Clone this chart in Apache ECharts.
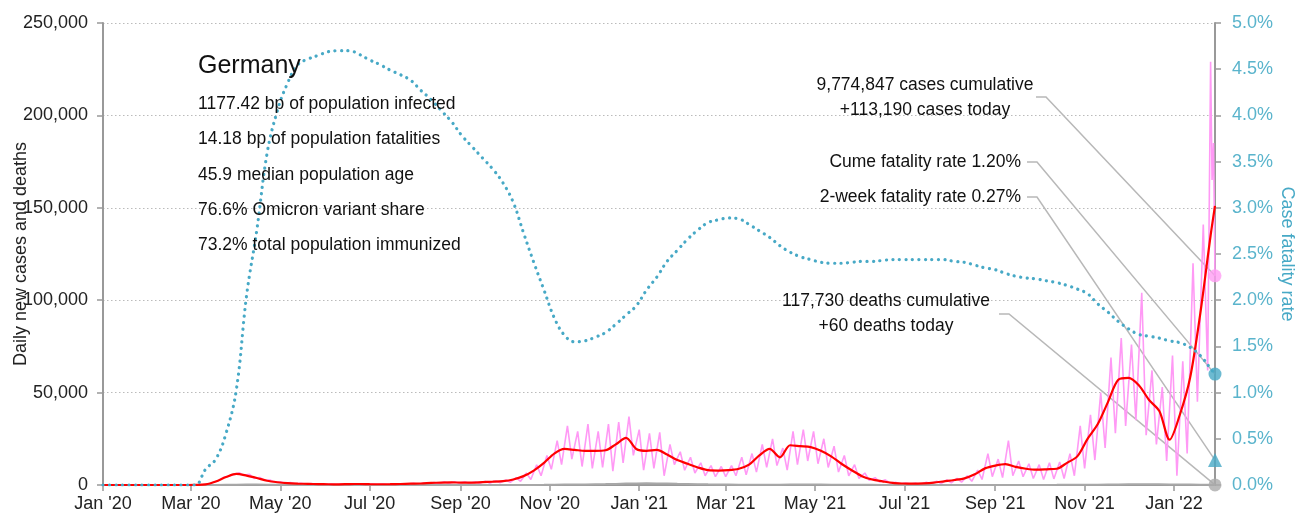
<!DOCTYPE html>
<html>
<head>
<meta charset="utf-8">
<script src="https://cdn.jsdelivr.net/npm/echarts@6/dist/echarts.min.js"></script>
<style>
html, body { margin: 0; padding: 0; background: #fff; }
#chartMain { width: 1295px; height: 522px; }
</style>
</head>
<body>
<div id="chartMain"></div>
<script>
// ---- data ----
var startDay = '2020-01-01';
var endDay = '2022-01-29';

// one value per week, starting 2020-01-01 (7-day average of new cases)
var weeklyAvgCases = [
    0, 0, 0, 1, 2, 1, 1, 1, 10, 40,
    300, 1900, 4300, 6000, 5100, 3800, 2300, 1500, 1000, 750,
    600, 480, 400, 350, 500, 550, 450, 400, 430, 550,
    700, 800, 1100, 1300, 1400, 1300, 1300, 1600, 1800, 2100,
    3000, 4800, 7800, 12000, 17000, 19500, 19000, 18500, 18500, 18800,
    22000, 25500, 19500, 18500, 19000, 16500, 13500, 11500, 9500, 8000,
    7800, 8000, 8800, 11000, 16000, 19500, 15000, 21500, 21000, 20500,
    18500, 15500, 11500, 8000, 4800, 3000, 2000, 1100, 800, 700,
    900, 1300, 2000, 2700, 3600, 5800, 9000, 10500, 11300, 9800,
    8800, 8300, 8500, 8800, 12000, 15500, 25000, 33000, 45000, 57000,
    58000, 54000, 46000, 40000, 24500, 38000, 58000, 93000, 135000
];
var lastAvgCases = 151000;

// daily new cases: weekly high and weekly low
var casesHigh = [
    0, 0, 0, 0, 0, 0, 0, 0, 0, 50,
    500, 2500, 4900, 6600, 5800, 4100, 2700, 1800, 1300, 950,
    750, 600, 500, 450, 700, 700, 550, 450, 550, 700,
    900, 1000, 1400, 1700, 1800, 1700, 1700, 2100, 2300, 2700,
    4000, 6500, 11000, 16000, 24000, 32000, 29000, 33000, 29000, 33000,
    34000, 37000, 30000, 28000, 28500, 22000, 18000, 15000, 12000, 10500,
    10000, 10500, 15000, 17000, 22000, 25000, 20000, 29000, 30000, 29000,
    25000, 21000, 16000, 11000, 6500, 4000, 2800, 1500, 1000, 1000,
    1500, 2000, 2800, 3600, 5000, 8000, 17000, 14000, 24000, 13000,
    11500, 11000, 12000, 12500, 17000, 32000, 38000, 50000, 69000, 79500,
    76000, 104000, 62000, 53000, 70000, 67000, 120000, 141000
];
var casesLow = [
    0, 0, 0, 0, 0, 0, 0, 0, 0, 150,
    1300, 4000, 5600, 5200, 3600, 2600, 1500, 900, 700, 500,
    400, 300, 250, 250, 400, 350, 300, 250, 300, 350,
    450, 500, 700, 800, 900, 800, 800, 1000, 1200, 1400,
    2000, 3000, 5000, 8500, 11000, 14000, 10000, 9000, 9500, 7500,
    12000, 16000, 8000, 9000, 5000, 11000, 8000, 6500, 5000, 4500,
    4500, 5000, 5500, 7000, 9500, 10500, 8000, 11000, 13000, 11500,
    9500, 7000, 5000, 3500, 2500, 1600, 1100, 600, 500, 400,
    500, 800, 1100, 1500, 2000, 3000, 4500, 4000, 5000, 4500,
    3500, 3000, 3300, 3500, 5000, 9000, 13500, 20000, 28000, 32000,
    35000, 27000, 22000, 13000, 5000, 17000, 45000, 62000
];
var casesTailDays = ['2022-01-26', '2022-01-27', '2022-01-28', '2022-01-29'];
var casesTail = [229000, 165000, 185000, 113190];

// daily deaths, one value per week
var weeklyDeaths = [
    0, 0, 0, 0, 0, 0, 0, 0, 0, 0,
    5, 50, 150, 200, 230, 220, 180, 130, 100, 60,
    40, 30, 20, 15, 10, 10, 8, 8, 6, 6,
    6, 6, 6, 6, 6, 8, 8, 8, 10, 10,
    12, 20, 40, 80, 150, 220, 280, 330, 400, 480,
    600, 750, 800, 900, 850, 780, 650, 550, 450, 350,
    300, 250, 200, 180, 150, 150, 180, 210, 230, 230,
    220, 200, 170, 130, 90, 70, 50, 40, 30, 20,
    15, 15, 15, 20, 25, 30, 40, 50, 60, 60,
    60, 60, 65, 70, 90, 110, 140, 190, 250, 300,
    340, 370, 380, 350, 300, 260, 230, 170, 150
];
var deathsToday = 60;

// case fatality rate, %, one value per week
var weeklyCfr = [
    0, 0, 0, 0, 0, 0, 0, 0, 0, 0,
    0.17, 0.28, 0.56, 1.03, 2.05, 2.76, 3.59, 4.05, 4.35, 4.55,
    4.61, 4.65, 4.69, 4.70, 4.70, 4.66, 4.60, 4.55, 4.49, 4.44,
    4.38, 4.27, 4.17, 4.05, 3.93, 3.78, 3.66, 3.54, 3.42, 3.27,
    3.06, 2.73, 2.41, 2.11, 1.81, 1.62, 1.55, 1.56, 1.60, 1.65,
    1.74, 1.84, 1.94, 2.11, 2.25, 2.42, 2.54, 2.66, 2.76, 2.84,
    2.87, 2.89, 2.88, 2.82, 2.75, 2.68, 2.59, 2.52, 2.47, 2.44,
    2.41, 2.40, 2.40, 2.41, 2.42, 2.42, 2.43, 2.44, 2.44, 2.44,
    2.44, 2.44, 2.44, 2.42, 2.41, 2.38, 2.35, 2.33, 2.29, 2.26,
    2.24, 2.23, 2.21, 2.19, 2.16, 2.12, 2.07, 1.96, 1.87, 1.77,
    1.69, 1.63, 1.61, 1.59, 1.56, 1.54, 1.49, 1.40, 1.26
];
var cumeCfr = 1.20;
var twoWeekCfr = 0.27;

var statLines = [
    '1177.42 bp of population infected',
    '14.18 bp of population fatalities',
    '45.9 median population age',
    '76.6% Omicron variant share',
    '73.2% total population immunized'
];

var FONT = "'Liberation Sans', Arial, sans-serif";
var TEAL = '#47a9c6';
var monthNames = ['Jan', 'Feb', 'Mar', 'Apr', 'May', 'Jun', 'Jul', 'Aug', 'Sep', 'Oct', 'Nov', 'Dec'];

// ---- categories: every day ----
function dayStr(d) {
    return d.toISOString().slice(0, 10);
}
var days = [];
var d0 = new Date(startDay + 'T00:00:00Z');
var dEnd = new Date(endDay + 'T00:00:00Z');
for (var d = new Date(d0); d <= dEnd; d.setUTCDate(d.getUTCDate() + 1)) {
    days.push(dayStr(d));
}

function isTickDay(idx, value) {
    var m = +value.slice(5, 7);
    return value.slice(8, 10) === '01' && m % 2 === 1;
}

// weekly series -> [day, value]
function weekly(arr, offset) {
    var out = [];
    for (var i = 0; i < arr.length; i++) {
        var idx = i * 7 + offset;
        if (idx < days.length) out.push([days[idx], arr[i]]);
    }
    return out;
}

var avgData = weekly(weeklyAvgCases, 0);
avgData.push([endDay, lastAvgCases]);

var dailyData = [];
for (var i = 0; i < casesHigh.length; i++) {
    dailyData.push([days[i * 7 + 2], casesHigh[i]]);
    dailyData.push([days[i * 7 + 5], casesLow[i]]);
}
for (var j = 0; j < casesTail.length; j++) dailyData.push([casesTailDays[j], casesTail[j]]);

var deathData = weekly(weeklyDeaths, 0);
deathData.push([endDay, deathsToday]);

var cfrData = weekly(weeklyCfr, 0);
cfrData.push([endDay, cumeCfr]);

var myChart = echarts.init(document.getElementById('chartMain'));
var option = {
    backgroundColor: '#fff',
    animation: false,
    textStyle: { fontFamily: FONT },
    grid: { left: 103, right: 80, top: 23, bottom: 37, containLabel: false, outerBoundsMode: 'none' },
    xAxis: {
        type: 'category',
        data: days,
        boundaryGap: false,
        axisLine: { lineStyle: { color: '#999', width: 2 } },
        axisTick: { interval: isTickDay, length: 6, lineStyle: { color: '#999', width: 1.5 } },
        axisLabel: {
            interval: isTickDay,
            color: '#222',
            fontSize: 18,
            fontFamily: FONT,
            margin: 10,
            formatter: function (v) {
                return monthNames[+v.slice(5, 7) - 1] + " '" + v.slice(2, 4);
            }
        },
        splitLine: { show: false }
    },
    yAxis: [{
        type: 'value',
        min: 0,
        max: 250000,
        interval: 50000,
        name: 'Daily new cases and deaths',
        nameLocation: 'middle',
        nameRotate: 90,
        nameGap: 73,
        nameMoveOverlap: false,
        nameTextStyle: { color: '#222', fontSize: 18, fontFamily: FONT },
        axisLine: { show: true, lineStyle: { color: '#999', width: 2 } },
        axisTick: { show: true, length: 6, lineStyle: { color: '#999', width: 1.5 } },
        axisLabel: {
            color: '#222', fontSize: 18, fontFamily: FONT, margin: 15,
            formatter: function (v) { return v.toLocaleString('en-US'); }
        },
        splitLine: { show: true, lineStyle: { color: '#bbb', width: 1, type: [1.5, 2.5] } }
    }, {
        type: 'value',
        min: 0,
        max: 5,
        interval: 0.5,
        position: 'right',
        name: 'Case fatality rate',
        nameLocation: 'middle',
        nameRotate: -90,
        nameGap: 63,
        nameMoveOverlap: false,
        nameTextStyle: { color: TEAL, fontSize: 18, fontFamily: FONT },
        axisLine: { show: true, lineStyle: { color: '#999', width: 2 } },
        axisTick: { show: true, length: 6, lineStyle: { color: '#999', width: 1.5 } },
        axisLabel: {
            color: '#5ab4cc', fontSize: 18, fontFamily: FONT, margin: 17,
            formatter: function (v) { return v.toFixed(1) + '%'; }
        },
        splitLine: { show: false }
    }],
    series: [{
        name: 'daily cases',
        type: 'line',
        data: dailyData,
        showSymbol: false,
        z: 2,
        lineStyle: { color: '#ff99f5', width: 1.6 }
    }, {
        name: 'daily deaths',
        type: 'line',
        data: deathData,
        showSymbol: false,
        z: 3,
        lineStyle: { color: '#a8a8a8', width: 2 }
    }, {
        name: 'cases 7-day',
        type: 'line',
        data: avgData,
        showSymbol: false,
        smooth: 0.3,
        z: 4,
        lineStyle: { color: '#ff0000', width: 2.2 }
    }, {
        name: 'CFR',
        type: 'line',
        yAxisIndex: 1,
        data: cfrData,
        showSymbol: false,
        smooth: 0.4,
        z: 5,
        lineStyle: { color: TEAL, width: 3.2, type: [0.1, 6.4], cap: 'round' }
    }, {
        name: 'cases today',
        type: 'scatter',
        clip: false,
        data: [[endDay, casesTail[casesTail.length - 1]]],
        symbolSize: 13,
        z: 6,
        itemStyle: { color: '#ff9cf2' }
    }, {
        name: 'cume cfr',
        type: 'scatter',
        clip: false,
        yAxisIndex: 1,
        data: [[endDay, cumeCfr]],
        symbolSize: 13,
        z: 6,
        itemStyle: { color: TEAL }
    }, {
        name: '2-week cfr',
        type: 'scatter',
        clip: false,
        yAxisIndex: 1,
        data: [[endDay, twoWeekCfr]],
        symbol: 'triangle',
        symbolSize: 14,
        z: 6,
        itemStyle: { color: TEAL }
    }, {
        name: 'deaths today',
        type: 'scatter',
        clip: false,
        data: [[endDay, deathsToday]],
        symbolSize: 13,
        z: 6,
        itemStyle: { color: '#aaa' }
    }]
};
myChart.setOption(option);

// ---- annotations ----
var pCases = myChart.convertToPixel({ seriesIndex: 4 }, [endDay, casesTail[casesTail.length - 1]]);
var pCume = myChart.convertToPixel({ seriesIndex: 5 }, [endDay, cumeCfr]);
var pTwo = myChart.convertToPixel({ seriesIndex: 6 }, [endDay, twoWeekCfr]);
var pDeaths = myChart.convertToPixel({ seriesIndex: 7 }, [endDay, deathsToday]);

function leader(x, y, p) {
    return {
        type: 'polyline',
        z: 1,
        silent: true,
        shape: { points: [[x, y], [x + 10, y], p] },
        style: { stroke: '#b8b8b8', lineWidth: 1.5, fill: null }
    };
}
function label(text, x, y, align, size) {
    return {
        type: 'text',
        z: 10,
        silent: true,
        style: {
            text: text, x: x, y: y,
            fill: '#111',
            font: (size || 17.5) + 'px ' + FONT,
            align: align || 'left',
            verticalAlign: 'middle',
            lineHeight: 25
        }
    };
}

var graphics = [
    label('Germany', 198, 66, 'left', 25)
];
for (var s = 0; s < statLines.length; s++) {
    graphics.push(label(statLines[s], 198, 104 + s * 35.4));
}
var cumCases = (9774847).toLocaleString('en-US');
var cumDeaths = (117730).toLocaleString('en-US');
graphics.push(label(cumCases + ' cases cumulative\n+' + casesTail[casesTail.length - 1].toLocaleString('en-US') + ' cases today', 925, 98, 'center'));
graphics.push(label('Cume fatality rate ' + cumeCfr.toFixed(2) + '%', 1021, 162, 'right'));
graphics.push(label('2-week fatality rate ' + twoWeekCfr.toFixed(2) + '%', 1021, 197, 'right'));
graphics.push(label(cumDeaths + ' deaths cumulative\n+' + deathsToday + ' deaths today', 886, 314, 'center'));
graphics.push(leader(1036, 97, pCases));
graphics.push(leader(1027, 162, pCume));
graphics.push(leader(1027, 197, pTwo));
graphics.push(leader(999, 314, pDeaths));

myChart.setOption({ graphic: graphics });

window.onresize = function () {
    myChart.resize();
};
</script>
</body>
</html>
